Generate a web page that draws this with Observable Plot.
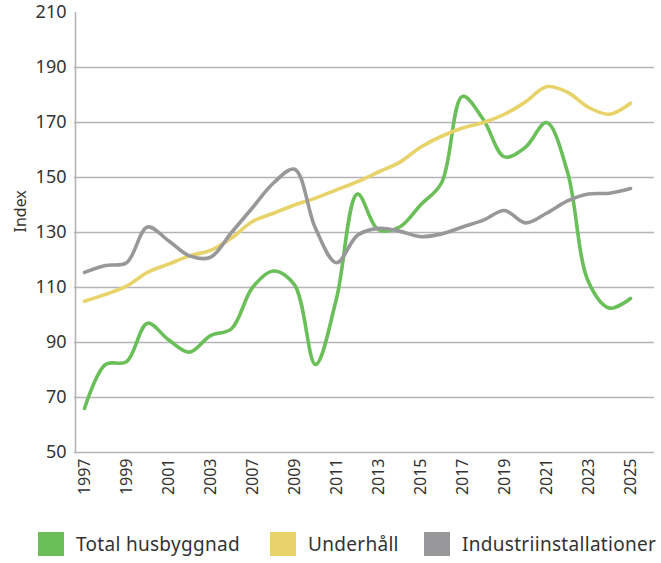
<!DOCTYPE html>
<html>
<head>
<meta charset="utf-8">
<script src="https://cdn.jsdelivr.net/npm/d3@7"></script>
<script src="https://cdn.jsdelivr.net/npm/@observablehq/plot@0.6"></script>
<style>
  html, body { margin: 0; padding: 0; background: #fff; }
  body { width: 661px; height: 563px; overflow: hidden; font-family: "Noto Sans", sans-serif; }
  #chart svg { display: block; }
  #legend { position: relative; height: 38px; font-size: 19px; letter-spacing: 0.3px; color: #333; }
  .item { position: absolute; top: 0; display: flex; align-items: center; height: 38px; white-space: nowrap; }
  .sw { width: 26px; height: 24px; margin-right: 12px; }
</style>
</head>
<body>
<div id="chart"></div>
<div id="legend"></div>
<script>
const years = ["1997","1998","1999","2000","2001","2002","2003","2005","2007","2008","2009","2010","2011","2012","2013","2014","2015","2016","2017","2018","2019","2020","2021","2022","2023","2024","2025"];
const tickYears = ["1997","1999","2001","2003","2007","2009","2011","2013","2015","2017","2019","2021","2023","2025"];
const seriesNames = ["Total husbyggnad", "Underhåll", "Industriinstallationer"];
const seriesColors = ["#6abf59", "#e8d36a", "#98989b"];
const totalHusbyggnad = [66, 82, 83, 97, 91, 86.5, 92.5, 95, 110, 116, 111, 82, 106, 144, 131, 132, 140, 148, 179.5, 171, 157.5, 161, 170, 152, 112, 102.5, 106];
const underhall = [105, 107.5, 110.5, 115.5, 118.5, 121.5, 123.5, 128, 134, 137, 140, 142.5, 145.5, 148.5, 152, 155.5, 161, 165, 168, 170, 173, 177.5, 183, 181, 175.5, 173, 177];
const industri = [115.5, 118, 119, 132, 127, 121.5, 121, 130, 139, 148, 153, 131.5, 119, 129, 131.5, 130.5, 128.5, 129.5, 132, 134.5, 138, 133.5, 137, 141.5, 144, 144.3, 146];
const yTicks = [50, 70, 90, 110, 130, 150, 170, 190, 210];
const gridTicks = [70, 90, 110, 130, 150, 170, 190];

const allSeries = [totalHusbyggnad, underhall, industri];
const rows = [];
allSeries.forEach((vals, s) => vals.forEach((v, i) => rows.push({year: years[i], value: v, series: seriesNames[s]})));

const chart = Plot.plot({
  width: 661,
  height: 525,
  marginLeft: 74,
  marginRight: 7,
  marginTop: 12,
  marginBottom: 73,
  style: {fontFamily: "Noto Sans, sans-serif", color: "#333", background: "#fff"},
  x: {type: "point", domain: years, padding: 0, insetLeft: 9, insetRight: 24, axis: null},
  y: {domain: [50, 210], axis: null},
  color: {domain: seriesNames, range: seriesColors},
  marks: [
    Plot.ruleY(gridTicks, {stroke: "#b4b4b8", strokeWidth: 1.6}),
    Plot.ruleY([50], {stroke: "#b4b4b8", strokeWidth: 1.6}),
    Plot.ruleX([years[0]], {dx: -9, stroke: "#b4b4b8", strokeWidth: 1.6}),
    Plot.axisY({ticks: yTicks, tickSize: 0, tickPadding: 8, fontSize: 18, label: null, tickFormat: d => d}),
    Plot.axisX({ticks: tickYears, tickSize: 0, tickPadding: 6, tickRotate: -90, fontSize: 16, label: null}),
    Plot.text(["Index"], {frameAnchor: "left", rotate: -90, dx: -54, fontSize: 16, fill: "#333"}),
    Plot.line(rows, {x: "year", y: "value", z: "series", stroke: "series", strokeWidth: 3.6, curve: "catmull-rom"})
  ]
});
document.getElementById("chart").appendChild(chart);

const lefts = [38, 270, 424];
const legend = document.getElementById("legend");
seriesNames.forEach((name, i) => {
  const item = document.createElement("div");
  item.className = "item";
  item.style.left = lefts[i] + "px";
  const sw = document.createElement("span");
  sw.className = "sw";
  sw.style.background = seriesColors[i];
  const t = document.createElement("span");
  t.textContent = name;
  item.appendChild(sw);
  item.appendChild(t);
  legend.appendChild(item);
});
</script>
</body>
</html>
